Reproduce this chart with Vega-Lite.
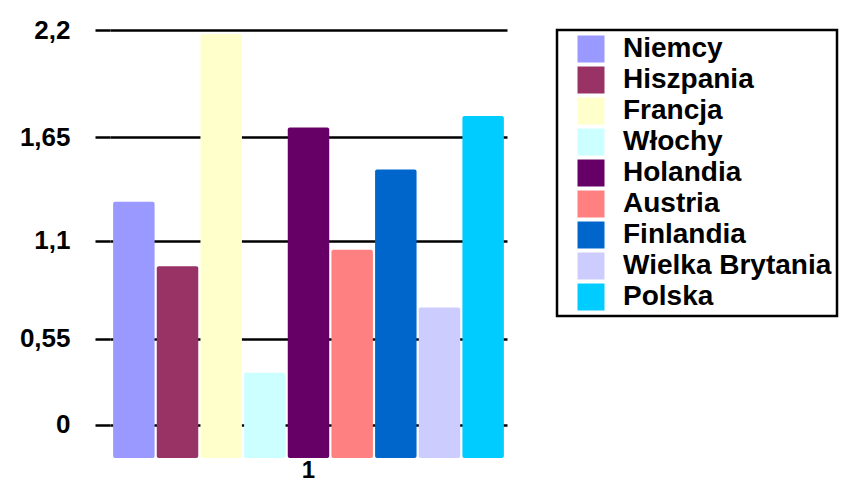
{
  "$schema": "https://vega.github.io/schema/vega-lite/v6.json",
  "width": 397,
  "height": 428,
  "autosize": {"type": "none"},
  "padding": {"left": 110, "top": 30, "right": 341, "bottom": 23},
  "background": "white",
  "config": {
    "view": {"stroke": null},
    "font": "Liberation Sans"
  },
  "data": {
    "values": [
      {"grupa": "1", "kraj": "Niemcy", "wartosc": 1.31},
      {"grupa": "1", "kraj": "Hiszpania", "wartosc": 0.96},
      {"grupa": "1", "kraj": "Francja", "wartosc": 2.18},
      {"grupa": "1", "kraj": "Włochy", "wartosc": 0.35},
      {"grupa": "1", "kraj": "Holandia", "wartosc": 1.70},
      {"grupa": "1", "kraj": "Austria", "wartosc": 1.05},
      {"grupa": "1", "kraj": "Finlandia", "wartosc": 1.48},
      {"grupa": "1", "kraj": "Wielka Brytania", "wartosc": 0.73},
      {"grupa": "1", "kraj": "Polska", "wartosc": 1.76}
    ]
  },
  "mark": {"type": "bar", "cornerRadius": 2},
  "encoding": {
    "x": {
      "field": "grupa",
      "type": "nominal",
      "scale": {"paddingInner": 0, "paddingOuter": 0.008},
      "axis": {
        "title": null,
        "labelAngle": 0,
        "domain": false,
        "ticks": false,
        "labelFont": "Liberation Sans",
        "labelFontSize": 24,
        "labelFontWeight": "bold",
        "labelColor": "black",
        "labelPadding": 0
      }
    },
    "xOffset": {
      "field": "kraj",
      "type": "nominal",
      "sort": null,
      "scale": {"paddingInner": 0.05}
    },
    "y": {
      "field": "wartosc",
      "type": "quantitative",
      "scale": {"type": "pow", "exponent": 1.1, "domain": [-0.231, 2.2], "nice": false, "zero": false},
      "axis": {
        "title": null,
        "values": [0, 0.55, 1.1, 1.65, 2.2],
        "labelExpr": "replace(toString(datum.value), '.', ',')",
        "domain": false,
        "ticks": true,
        "tickSize": 15,
        "tickColor": "black",
        "tickWidth": 2.5,
        "grid": true,
        "gridColor": "black",
        "gridWidth": 2.5,
        "gridOpacity": 1,
        "labelFont": "Liberation Sans",
        "labelFontSize": 26,
        "labelFontWeight": "bold",
        "labelColor": "black",
        "labelPadding": 25
      }
    },
    "y2": {"datum": -0.231},
    "color": {
      "field": "kraj",
      "type": "nominal",
      "scale": {
        "domain": ["Niemcy", "Hiszpania", "Francja", "Włochy", "Holandia", "Austria", "Finlandia", "Wielka Brytania", "Polska"],
        "range": ["#9999FF", "#993366", "#FFFFCC", "#CCFFFF", "#660066", "#FF8080", "#0066CC", "#CCCCFF", "#00CCFF"]
      },
      "legend": {
        "title": null,
        "orient": "none",
        "legendX": 447,
        "legendY": 0,
        "fillColor": "white",
        "strokeColor": "black",
        "padding": 5,
        "symbolType": "square",
        "symbolSize": 729,
        "symbolStrokeWidth": 0,
        "symbolOpacity": 1,
        "symbolOffset": 15,
        "labelOffset": 18,
        "labelFont": "Liberation Sans",
        "labelFontSize": 28,
        "labelFontWeight": "bold",
        "labelColor": "black",
        "labelLimit": 400,
        "rowPadding": 3,
        "encode": {"legend": {"update": {"strokeWidth": {"value": 2.5}}}}
      }
    }
  }
}
